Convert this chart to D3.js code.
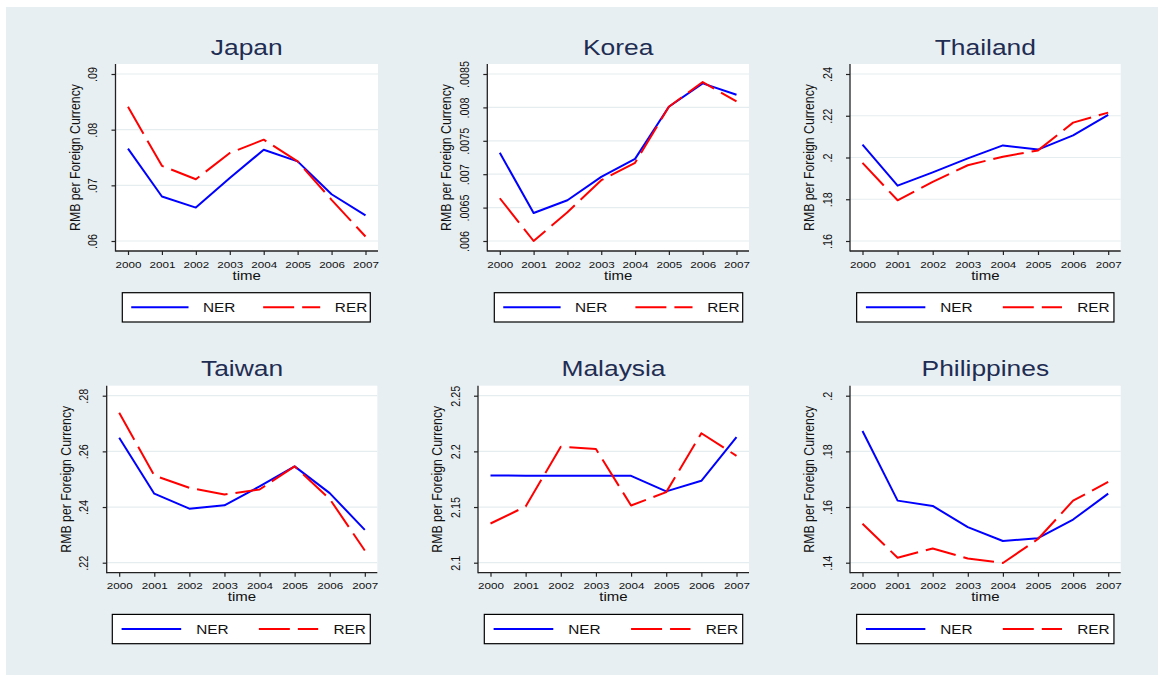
<!DOCTYPE html>
<html>
<head>
<meta charset="utf-8">
<script src="https://cdn.jsdelivr.net/npm/d3@7"></script>
<style>
  html, body { margin: 0; padding: 0; background: #ffffff; }
  svg { display: block; }
  text { font-family: "Liberation Sans", Arial, Helvetica, sans-serif; }
</style>
</head>
<body>
<svg id="chart" width="1158" height="675"></svg>
<script>
// ---- data -------------------------------------------------------------
const years = [2000, 2001, 2002, 2003, 2004, 2005, 2006, 2007];

const japanNER = [0.0766, 0.0680, 0.0660, 0.0713, 0.0764, 0.0743, 0.0684, 0.0646];
const japanRER = [0.0841, 0.0735, 0.0711, 0.0758, 0.0782, 0.0743, 0.0674, 0.0608];
const japanTicks = [0.06, 0.07, 0.08, 0.09];

const koreaNER = [0.00732, 0.00642, 0.00661, 0.00696, 0.00723, 0.00801, 0.00836, 0.00819];
const koreaRER = [0.00664, 0.00600, 0.00643, 0.00691, 0.00717, 0.00801, 0.00838, 0.00809];
const koreaTicks = [0.006, 0.0065, 0.007, 0.0075, 0.008, 0.0085];

const thailandNER = [0.2062, 0.1865, 0.1929, 0.1996, 0.2058, 0.2038, 0.2106, 0.2204];
const thailandRER = [0.1974, 0.1795, 0.1883, 0.1963, 0.2004, 0.2034, 0.2167, 0.2215];
const thailandTicks = [0.16, 0.18, 0.2, 0.22, 0.24];

const taiwanNER = [0.2649, 0.2448, 0.2394, 0.2406, 0.2474, 0.2546, 0.2450, 0.2318];
const taiwanRER = [0.2739, 0.2513, 0.2469, 0.2445, 0.2463, 0.2546, 0.2429, 0.2244];
const taiwanTicks = [0.22, 0.24, 0.26, 0.28];

const malaysiaNER = [2.1784, 2.1781, 2.1780, 2.1780, 2.1780, 2.1641, 2.1736, 2.2127];
const malaysiaRER = [2.1352, 2.1505, 2.2042, 2.2021, 2.1514, 2.1634, 2.2163, 2.1960];
const malaysiaTicks = [2.1, 2.15, 2.2, 2.25];

const philippinesNER = [0.1873, 0.1623, 0.1604, 0.1528, 0.1478, 0.1488, 0.1555, 0.1648];
const philippinesRER = [0.1540, 0.1418, 0.1451, 0.1415, 0.1399, 0.1485, 0.1623, 0.1690];
const philippinesTicks = [0.14, 0.16, 0.18, 0.2];

const seriesNames = ["NER", "RER"];
const xTitle = "time";
const yTitle = "RMB per Foreign Currency";

// ---- panel geometry ---------------------------------------------------
const panels = [
  { name: "Japan",       ner: japanNER,       rer: japanRER,       ticks: japanTicks,
    left: 115.5, right: 378,   top: 64,    bottom: 251,   legCx: 246.3, legW: 248 },
  { name: "Korea",       ner: koreaNER,       rer: koreaRER,       ticks: koreaTicks,
    left: 487.3, right: 749,   top: 64,    bottom: 251,   legCx: 618.5, legW: 248.4 },
  { name: "Thailand",    ner: thailandNER,    rer: thailandRER,    ticks: thailandTicks,
    left: 850,   right: 1120.7, top: 64,   bottom: 251,   legCx: 985.3, legW: 257.3 },
  { name: "Taiwan",      ner: taiwanNER,      rer: taiwanRER,      ticks: taiwanTicks,
    left: 106.7, right: 377.3, top: 385.7, bottom: 572.7, legCx: 241.3, legW: 258 },
  { name: "Malaysia",    ner: malaysiaNER,    rer: malaysiaRER,    ticks: malaysiaTicks,
    left: 478,   right: 749,   top: 385.7, bottom: 572.7, legCx: 613.5, legW: 258.4 },
  { name: "Philippines", ner: philippinesNER, rer: philippinesRER, ticks: philippinesTicks,
    left: 850,   right: 1120.7, top: 385.7, bottom: 572.7, legCx: 985.3, legW: 257.3 }
];

const SX = 1.2;               // horizontal text stretch
const BG = "#e8eff2";
const GRID = "#e6edf0";
const AXIS = "#222222";
const TITLE = "#1f2d52";
const NER_COLOR = "#0000ff";
const RER_COLOR = "#ff0000";
const DASH = "31,8";

const svg = d3.select("#chart");

// outer graph region
svg.append("rect")
  .attr("x", 6).attr("y", 7)
  .attr("width", 1158 - 6).attr("height", 675 - 7)
  .attr("fill", BG);

const fmt = v => {
  const s = String(+v.toPrecision(6));
  return s.replace(/^0\./, ".");
};

panels.forEach(p => {
  const g = svg.append("g");

  const x = d3.scalePoint()
    .domain(years)
    .range([p.left + 12.5, p.right - 12.5]);

  const y = d3.scaleLinear()
    .domain([d3.min(p.ticks), d3.max(p.ticks)])
    .range([p.bottom - 10, p.top + 10]);

  // plot region
  g.append("rect")
    .attr("x", p.left).attr("y", p.top)
    .attr("width", p.right - p.left).attr("height", p.bottom - p.top)
    .attr("fill", "#ffffff");

  // gridlines
  g.selectAll(".grid")
    .data(p.ticks)
    .join("line")
    .attr("x1", p.left).attr("x2", p.right)
    .attr("y1", d => y(d)).attr("y2", d => y(d))
    .attr("stroke", GRID).attr("stroke-width", 1.2);

  // y axis
  const yAxis = g.append("g")
    .attr("transform", `translate(${p.left},0)`)
    .call(d3.axisLeft(y).tickValues(p.ticks).tickFormat(fmt).tickSize(4).tickSizeOuter(0));
  yAxis.select(".domain").remove();
  yAxis.selectAll(".tick line").attr("stroke", AXIS).attr("stroke-width", 1.2);
  yAxis.selectAll(".tick text")
    .attr("x", null).attr("y", null).attr("dy", null)
    .attr("text-anchor", "middle")
    .attr("transform", `translate(-18.5,0) scale(${SX},1) rotate(-90)`)
    .attr("font-size", 10.8)
    .attr("font-family", null)
    .attr("fill", "#111");

  // x axis
  const xAxis = g.append("g")
    .attr("transform", `translate(0,${p.bottom})`)
    .call(d3.axisBottom(x).tickSize(4).tickSizeOuter(0));
  xAxis.select(".domain").remove();
  xAxis.selectAll(".tick line").attr("stroke", AXIS).attr("stroke-width", 1.2);
  xAxis.selectAll(".tick text")
    .attr("x", null).attr("y", null).attr("dy", null)
    .attr("text-anchor", "middle")
    .attr("transform", `translate(0,16.7) scale(${SX},1)`)
    .attr("font-size", 9.7)
    .attr("font-family", null)
    .attr("fill", "#111");

  // axis lines
  g.append("line")
    .attr("x1", p.left).attr("x2", p.left)
    .attr("y1", p.top).attr("y2", p.bottom + 0.6)
    .attr("stroke", AXIS).attr("stroke-width", 1.3);
  g.append("line")
    .attr("x1", p.left).attr("x2", p.right)
    .attr("y1", p.bottom).attr("y2", p.bottom)
    .attr("stroke", AXIS).attr("stroke-width", 1.3);

  // axis titles
  const cx = (p.left + p.right) / 2;
  const cy = (p.top + p.bottom) / 2;
  g.append("text")
    .attr("transform", `translate(${cx},${p.bottom + 28.5}) scale(${SX},1)`)
    .attr("text-anchor", "middle")
    .attr("font-size", 12.5)
    .attr("fill", "#111")
    .text(xTitle);
  g.append("text")
    .attr("transform", `translate(${p.left - 36},${cy}) scale(${SX},1) rotate(-90)`)
    .attr("text-anchor", "middle")
    .attr("font-size", 12.3)
    .attr("fill", "#111")
    .text(yTitle);

  // panel title
  g.append("text")
    .attr("transform", `translate(${cx},${p.top - 9.5}) scale(${SX},1)`)
    .attr("text-anchor", "middle")
    .attr("font-size", 22)
    .attr("fill", TITLE)
    .text(p.name);

  // series
  const line = d3.line()
    .x((d, i) => x(years[i]))
    .y(d => y(d));
  g.append("path")
    .datum(p.ner)
    .attr("d", line)
    .attr("fill", "none")
    .attr("stroke", NER_COLOR)
    .attr("stroke-width", 2)
    .attr("stroke-linejoin", "round");
  g.append("path")
    .datum(p.rer)
    .attr("d", line)
    .attr("fill", "none")
    .attr("stroke", RER_COLOR)
    .attr("stroke-width", 2)
    .attr("stroke-dasharray", DASH)
    .attr("stroke-linejoin", "round");

  // legend
  const lx = p.legCx - p.legW / 2;
  const ly = p.bottom + 41.7;
  const lh = 29.3;
  const lmid = ly + lh / 2;
  const leg = g.append("g");
  leg.append("rect")
    .attr("x", lx).attr("y", ly)
    .attr("width", p.legW).attr("height", lh)
    .attr("fill", "#ffffff")
    .attr("stroke", "#000").attr("stroke-width", 1.2);
  const items = [
    { label: seriesNames[0], color: NER_COLOR, dash: null,  a: 0.036, b: 0.267, t: 0.325 },
    { label: seriesNames[1], color: RER_COLOR, dash: DASH,  a: 0.568, b: 0.798, t: 0.857 }
  ];
  items.forEach(it => {
    leg.append("line")
      .attr("x1", lx + it.a * p.legW).attr("x2", lx + it.b * p.legW)
      .attr("y1", lmid).attr("y2", lmid)
      .attr("stroke", it.color).attr("stroke-width", 2)
      .attr("stroke-dasharray", it.dash);
    leg.append("text")
      .attr("transform", `translate(${lx + it.t * p.legW},${lmid + 4.8}) scale(${SX},1)`)
      .attr("font-size", 12.8)
      .attr("fill", "#111")
      .text(it.label);
  });
});
</script>
</body>
</html>
